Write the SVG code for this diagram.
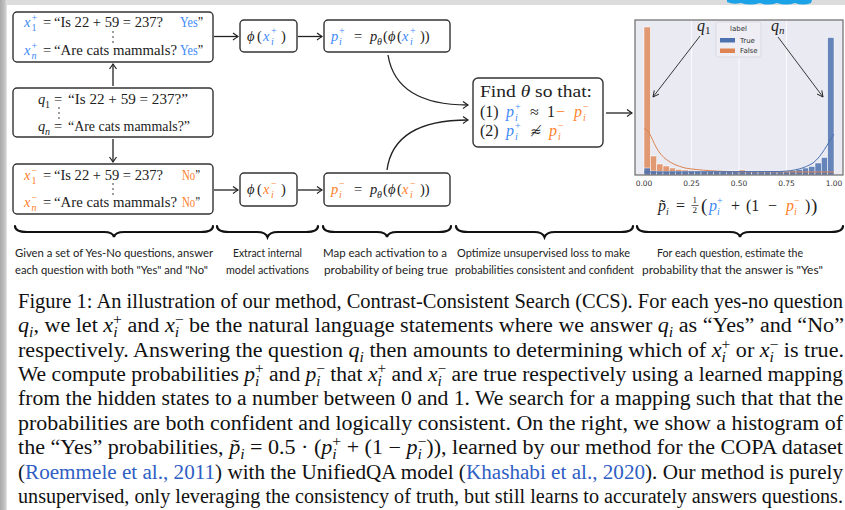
<svg xmlns="http://www.w3.org/2000/svg" width="845" height="510" viewBox="0 0 845 510">
<defs>
<style>
.box{fill:#fff;stroke:#333;stroke-width:1.4}
.m{font-family:"Liberation Serif","Times New Roman",Times,serif;font-size:14.5px;fill:#222}
.i{font-style:italic}
.s{font-size:10px}
.b{fill:#3d8af7}
.o{fill:#ff7f2a}
.cn{stroke:#222;stroke-width:1.3;fill:none}
.brace{stroke:#111;stroke-width:2.2;fill:none;stroke-linecap:round}
.cap{font-family:Lato,"Noto Sans","DejaVu Sans",sans-serif;font-size:11px;fill:#222;text-anchor:middle}
.fig{font-family:"Liberation Serif","Times New Roman",Times,serif;font-size:20.5px;fill:#111}
.fs{font-size:14.5px}
.lk{fill:#2f5ec4}
.tick{font-family:"DejaVu Sans",sans-serif;font-size:7.5px;fill:#333;text-anchor:middle}
.lg{font-family:"DejaVu Sans",sans-serif;font-size:7px;fill:#333}
.ob{fill:#dd8452;fill-opacity:0.8;stroke:#fff;stroke-width:0.5}
.bb{fill:#4c72b0;fill-opacity:0.85;stroke:#fff;stroke-width:0.5}
</style>
<marker id="arr" viewBox="-6 -5 7 10" refX="0" refY="0" markerWidth="7" markerHeight="10" markerUnits="userSpaceOnUse" orient="auto">
<path d="M-5,-3.5 Q-1.5,-1 0,0 Q-1.5,1 -5,3.5" fill="none" stroke="#222" stroke-width="1.2"/>
</marker>
<marker id="harr" viewBox="-7 -4 8 8" refX="0" refY="0" markerWidth="8" markerHeight="8" markerUnits="userSpaceOnUse" orient="auto">
<path d="M-6,-3 L0,0 L-6,3" fill="none" stroke="#222" stroke-width="0.9"/>
</marker>
<linearGradient id="lg" x1="0" x2="1" y1="0" y2="0">
<stop offset="0" stop-color="#a9a9a9"/><stop offset="0.7" stop-color="#c4c4c4"/><stop offset="1" stop-color="#e8e8e8"/>
</linearGradient>
</defs>
<rect x="0" y="0" width="845" height="510" fill="#fff"/>
<rect x="0" y="0" width="845" height="5" fill="#dcdcdc"/>
<rect x="0" y="0" width="7" height="510" fill="url(#lg)"/>
<path d="M727,0 L812,0 L811,3 Q803,6 795,3 Q786,6 777,3 Q768,6 760,3 Q750,6 741,3 Q733,5 727,2 Z" fill="#1ca2e6"/>

<g id="box-xplus">
<rect x="13" y="12" width="200" height="50" rx="4" class="box"/>
<text x="24" y="27" class="m i b">x</text>
<text x="31.5" y="31" class="m b s">1</text>
<text x="31.5" y="21" class="m b s">+</text>
<text x="43" y="27" class="m">=</text>
<text x="54" y="27" class="m" textLength="109" lengthAdjust="spacingAndGlyphs">“Is 22 + 59 = 237?</text>
<text x="180" y="27" class="m" textLength="23" lengthAdjust="spacingAndGlyphs"><tspan class="b">Yes</tspan>”</text>
<circle cx="113" cy="32" r="0.8" fill="#222"/><circle cx="113" cy="37" r="0.8" fill="#222"/><circle cx="113" cy="42" r="0.8" fill="#222"/>
<text x="24" y="55" class="m i b">x</text>
<text x="31.5" y="59" class="m i b s">n</text>
<text x="31.5" y="49" class="m b s">+</text>
<text x="43" y="55" class="m">=</text>
<text x="54" y="55" class="m" textLength="123" lengthAdjust="spacingAndGlyphs">“Are cats mammals?</text>
<text x="180" y="55" class="m" textLength="23" lengthAdjust="spacingAndGlyphs"><tspan class="b">Yes</tspan>”</text>
</g>

<g id="box-q">
<rect x="13" y="88" width="200" height="49" rx="4" class="box"/>
<text x="38" y="104" class="m i">q</text>
<text x="45" y="107.5" class="m s">1</text>
<text x="54" y="104" class="m">=</text>
<text x="68" y="104" class="m" textLength="120" lengthAdjust="spacingAndGlyphs">“Is 22 + 59 = 237?”</text>
<circle cx="59" cy="108" r="0.8" fill="#222"/><circle cx="59" cy="113" r="0.8" fill="#222"/><circle cx="59" cy="118" r="0.8" fill="#222"/>
<text x="38" y="131" class="m i">q</text>
<text x="45" y="134.5" class="m i s">n</text>
<text x="54" y="131" class="m">=</text>
<text x="68" y="131" class="m" textLength="122" lengthAdjust="spacingAndGlyphs">“Are cats mammals?”</text>
</g>

<g id="box-xminus">
<rect x="13" y="164" width="200" height="50" rx="4" class="box"/>
<text x="24" y="180" class="m i o">x</text>
<text x="31.5" y="184" class="m o s">1</text>
<text x="31.5" y="174" class="m o s">−</text>
<text x="43" y="180" class="m">=</text>
<text x="54" y="180" class="m" textLength="109" lengthAdjust="spacingAndGlyphs">“Is 22 + 59 = 237?</text>
<text x="182" y="180" class="m" textLength="18" lengthAdjust="spacingAndGlyphs"><tspan class="o">No</tspan>”</text>
<circle cx="113" cy="184" r="0.8" fill="#222"/><circle cx="113" cy="189" r="0.8" fill="#222"/><circle cx="113" cy="194" r="0.8" fill="#222"/>
<text x="24" y="207" class="m i o">x</text>
<text x="31.5" y="211" class="m i o s">n</text>
<text x="31.5" y="201" class="m o s">−</text>
<text x="43" y="207" class="m">=</text>
<text x="54" y="207" class="m" textLength="123" lengthAdjust="spacingAndGlyphs">“Are cats mammals?</text>
<text x="182" y="207" class="m" textLength="18" lengthAdjust="spacingAndGlyphs"><tspan class="o">No</tspan>”</text>
</g>

<g id="phi-plus">
<rect x="240" y="20" width="57" height="32" rx="4" class="box"/>
<text x="247" y="41" class="m i">ϕ</text>
<text x="257" y="41" class="m">(</text>
<text x="263" y="41" class="m i b">x</text>
<text x="271" y="34" class="m b s">+</text>
<text x="271" y="45" class="m i b s">i</text>
<text x="281" y="41" class="m">)</text>
</g>
<g id="phi-minus">
<rect x="240" y="173" width="57" height="33" rx="4" class="box"/>
<text x="247" y="194" class="m i">ϕ</text>
<text x="257" y="194" class="m">(</text>
<text x="263" y="194" class="m i o">x</text>
<text x="271" y="187" class="m o s">−</text>
<text x="271" y="198" class="m i o s">i</text>
<text x="281" y="194" class="m">)</text>
</g>

<g id="p-plus">
<rect x="324" y="20" width="126" height="32" rx="4" class="box"/>
<text x="331" y="41" class="m i b">p</text>
<text x="339" y="34" class="m b s">+</text>
<text x="339" y="45" class="m i b s">i</text>
<text x="354" y="41" class="m">=</text>
<text x="370" y="41" class="m i">p</text>
<text x="377" y="45" class="m i s">θ</text>
<text x="383" y="41" class="m">(</text>
<text x="388" y="41" class="m i">ϕ</text>
<text x="397" y="41" class="m">(</text>
<text x="402" y="41" class="m i b">x</text>
<text x="410" y="34" class="m b s">+</text>
<text x="410" y="45" class="m i b s">i</text>
<text x="420" y="41" class="m">))</text>
</g>
<g id="p-minus">
<rect x="324" y="173" width="126" height="33" rx="4" class="box"/>
<text x="331" y="194" class="m i o">p</text>
<text x="339" y="187" class="m o s">−</text>
<text x="339" y="198" class="m i o s">i</text>
<text x="354" y="194" class="m">=</text>
<text x="370" y="194" class="m i">p</text>
<text x="377" y="198" class="m i s">θ</text>
<text x="383" y="194" class="m">(</text>
<text x="388" y="194" class="m i">ϕ</text>
<text x="397" y="194" class="m">(</text>
<text x="402" y="194" class="m i o">x</text>
<text x="410" y="187" class="m o s">−</text>
<text x="410" y="198" class="m i o s">i</text>
<text x="420" y="194" class="m">))</text>
</g>

<g id="find">
<rect x="473" y="78" width="130" height="69" rx="5" class="box"/>
<text x="480" y="97" class="m" style="font-size:16px" textLength="112" lengthAdjust="spacingAndGlyphs">Find <tspan class="i">θ</tspan> so that:</text>
<text x="480" y="117" class="m" style="font-size:16px">(1)</text>
<text x="506" y="117" class="m i b" style="font-size:16px">p</text>
<text x="515" y="110" class="m b s">+</text>
<text x="515" y="121" class="m i b s">i</text>
<text x="530" y="117" class="m" style="font-size:16px">≈</text>
<text x="547" y="117" class="m" style="font-size:16px">1</text>
<text x="556" y="117" class="m o" style="font-size:16px">−</text>
<text x="574" y="117" class="m i o" style="font-size:16px">p</text>
<text x="583" y="110" class="m o s">−</text>
<text x="583" y="121" class="m i o s">i</text>
<text x="480" y="136" class="m" style="font-size:16px">(2)</text>
<text x="506" y="136" class="m i b" style="font-size:16px">p</text>
<text x="515" y="129" class="m b s">+</text>
<text x="515" y="140" class="m i b s">i</text>
<text x="530" y="136" class="m" style="font-family:'DejaVu Serif',serif;font-size:14px">≉</text>
<text x="549" y="136" class="m i o" style="font-size:16px">p</text>
<text x="558" y="129" class="m o s">−</text>
<text x="558" y="140" class="m i o s">i</text>
</g>

<g id="histogram">
<rect x="635" y="20" width="208" height="155" fill="#eaeaf2"/>
<g stroke="#fff" stroke-width="0.8">
<line x1="691.5" y1="20" x2="691.5" y2="175"/><line x1="739" y1="20" x2="739" y2="175"/><line x1="786.5" y1="20" x2="786.5" y2="175"/>
</g>
<g class="orange-bars">
<rect class="ob" x="644" y="27" width="6.33" height="148"/>
<rect class="ob" x="650.33" y="156" width="6.33" height="19"/>
<rect class="ob" x="656.67" y="164" width="6.33" height="11"/>
<rect class="ob" x="663" y="166" width="6.33" height="9"/>
<rect class="ob" x="669.33" y="168" width="6.33" height="7"/>
<rect class="ob" x="675.67" y="169.5" width="6.33" height="5.5"/>
<rect class="ob" x="682" y="170" width="6.33" height="5"/>
<rect class="ob" x="688.33" y="170.5" width="6.33" height="4.5"/>
<rect class="ob" x="694.67" y="171" width="6.33" height="4"/>
<rect class="ob" x="701" y="171" width="6.33" height="4"/>
<rect class="ob" x="707.33" y="171" width="6.33" height="4"/>
<rect class="ob" x="713.67" y="171" width="6.33" height="4"/>
<rect class="ob" x="720" y="171" width="6.33" height="4"/>
<rect class="ob" x="726.33" y="171" width="6.33" height="4"/>
<rect class="ob" x="732.67" y="171" width="6.33" height="4"/>
<rect class="ob" x="739" y="170" width="6.33" height="5"/>
<rect class="ob" x="745.33" y="172" width="6.33" height="3"/>
<rect class="ob" x="751.67" y="172" width="6.33" height="3"/>
<rect class="ob" x="758" y="172" width="6.33" height="3"/>
<rect class="ob" x="764.33" y="172" width="6.33" height="3"/>
<rect class="ob" x="770.67" y="172" width="6.33" height="3"/>
<rect class="ob" x="777" y="172" width="6.33" height="3"/>
<rect class="ob" x="783.33" y="172" width="6.33" height="3"/>
<rect class="ob" x="789.67" y="172" width="6.33" height="3"/>
<rect class="ob" x="796" y="172" width="6.33" height="3"/>
<rect class="ob" x="802.33" y="172" width="6.33" height="3"/>
<rect class="ob" x="808.67" y="172" width="6.33" height="3"/>
<rect class="ob" x="815" y="172" width="6.33" height="3"/>
<rect class="ob" x="821.33" y="172" width="6.33" height="3"/>
<rect class="ob" x="827.67" y="172" width="6.33" height="3"/>
</g>
<g class="blue-bars">
<rect class="bb" x="644" y="168" width="6.33" height="7"/>
<rect class="bb" x="650.33" y="171" width="6.33" height="4"/>
<rect class="bb" x="656.67" y="171.5" width="6.33" height="3.5"/>
<rect class="bb" x="663" y="171.5" width="6.33" height="3.5"/>
<rect class="bb" x="669.33" y="171.5" width="6.33" height="3.5"/>
<rect class="bb" x="675.67" y="171.5" width="6.33" height="3.5"/>
<rect class="bb" x="682" y="171.5" width="6.33" height="3.5"/>
<rect class="bb" x="688.33" y="171.5" width="6.33" height="3.5"/>
<rect class="bb" x="694.67" y="171.5" width="6.33" height="3.5"/>
<rect class="bb" x="701" y="171.5" width="6.33" height="3.5"/>
<rect class="bb" x="707.33" y="171.5" width="6.33" height="3.5"/>
<rect class="bb" x="713.67" y="171.5" width="6.33" height="3.5"/>
<rect class="bb" x="720" y="171.5" width="6.33" height="3.5"/>
<rect class="bb" x="726.33" y="171.5" width="6.33" height="3.5"/>
<rect class="bb" x="732.67" y="171.5" width="6.33" height="3.5"/>
<rect class="bb" x="739" y="171.5" width="6.33" height="3.5"/>
<rect class="bb" x="745.33" y="171.5" width="6.33" height="3.5"/>
<rect class="bb" x="751.67" y="171.5" width="6.33" height="3.5"/>
<rect class="bb" x="758" y="171.5" width="6.33" height="3.5"/>
<rect class="bb" x="764.33" y="171.5" width="6.33" height="3.5"/>
<rect class="bb" x="770.67" y="171.5" width="6.33" height="3.5"/>
<rect class="bb" x="777" y="171.5" width="6.33" height="3.5"/>
<rect class="bb" x="783.33" y="171.5" width="6.33" height="3.5"/>
<rect class="bb" x="789.67" y="170.5" width="6.33" height="4.5"/>
<rect class="bb" x="796" y="169.5" width="6.33" height="5.5"/>
<rect class="bb" x="802.33" y="168" width="6.33" height="7"/>
<rect class="bb" x="808.67" y="166.5" width="6.33" height="8.5"/>
<rect class="bb" x="815" y="163" width="6.33" height="12"/>
<rect class="bb" x="821.33" y="157.5" width="6.33" height="17.5"/>
<rect class="bb" x="827.67" y="37.5" width="6.33" height="137.5"/>
</g>
<path d="M644,129 C648,128 651,137 656,147 C662,158 670,164 685,168 C700,170.5 720,171.5 740,171.8 L834,172" fill="none" stroke="#dd8452" stroke-width="1"/>
<path d="M644,172 L780,171.5 C795,171 805,168 813,163 C822,156 828,143 834,134" fill="none" stroke="#4c72b0" stroke-width="1"/>
<rect x="635" y="20" width="208" height="155" fill="none" stroke="#6b6b6b" stroke-width="1.2"/>
<text class="tick" x="644" y="186">0.00</text>
<text class="tick" x="691.5" y="186">0.25</text>
<text class="tick" x="739" y="186">0.50</text>
<text class="tick" x="786.5" y="186">0.75</text>
<text class="tick" x="834" y="186">1.00</text>
<rect x="716" y="22" width="45" height="35" rx="2" fill="#eeeef4" stroke="#d2d2d8" stroke-width="0.7"/>
<text class="lg" x="738.5" y="31" text-anchor="middle">label</text>
<rect x="720" y="38" width="15" height="4.5" fill="#4c72b0"/>
<text class="lg" x="740" y="43">True</text>
<rect x="720" y="48.5" width="15" height="4.5" fill="#dd8452"/>
<text class="lg" x="740" y="53">False</text>
<text x="697" y="31" class="m i" style="font-size:16px">q</text>
<text x="705" y="34" class="m" style="font-size:11px">1</text>
<text x="771" y="31" class="m i" style="font-size:16px">q</text>
<text x="779" y="34" class="m i" style="font-size:11px">n</text>
<line x1="700" y1="36" x2="653" y2="97" stroke="#222" stroke-width="0.9" marker-end="url(#harr)"/>
<line x1="778" y1="37" x2="823" y2="97" stroke="#222" stroke-width="0.9" marker-end="url(#harr)"/>
<text x="658" y="211" class="m i" style="font-size:16px">p̃</text>
<text x="666" y="214.5" class="m i s">i</text>
<text x="676" y="211" class="m" style="font-size:16px">=</text>
<text x="692.5" y="203" class="m" style="font-size:9px">1</text>
<line x1="691.5" y1="205.5" x2="698.5" y2="205.5" stroke="#222" stroke-width="0.7"/>
<text x="692.5" y="213" class="m" style="font-size:9px">2</text>
<text x="701" y="212" class="m" style="font-size:19px">(</text>
<text x="709" y="211" class="m i b" style="font-size:16px">p</text>
<text x="717" y="204" class="m b s">+</text>
<text x="717" y="215" class="m i b s">i</text>
<text x="731" y="211" class="m" style="font-size:16px">+</text>
<text x="746" y="211" class="m" style="font-size:16px">(1</text>
<text x="768" y="211" class="m" style="font-size:16px">−</text>
<text x="786" y="211" class="m i o" style="font-size:16px">p</text>
<text x="794" y="204" class="m o s">−</text>
<text x="794" y="215" class="m i o s">i</text>
<text x="805" y="211" class="m" style="font-size:16px">)</text>
<text x="811" y="212" class="m" style="font-size:19px">)</text>
</g>

<g id="connectors">
<line x1="113" y1="86" x2="113" y2="64" class="cn" marker-end="url(#arr)"/>
<line x1="113" y1="139" x2="113" y2="162" class="cn" marker-end="url(#arr)"/>
<line x1="214" y1="36.5" x2="238" y2="36.5" class="cn" marker-end="url(#arr)"/>
<line x1="214" y1="190" x2="238" y2="190" class="cn" marker-end="url(#arr)"/>
<line x1="298" y1="36.5" x2="322" y2="36.5" class="cn" marker-end="url(#arr)"/>
<line x1="298" y1="190" x2="322" y2="190" class="cn" marker-end="url(#arr)"/>
<path d="M388,55 C394,92 425,105 468,105" class="cn" marker-end="url(#arr)"/>
<path d="M387,170 C392,133 425,120 468,120" class="cn" marker-end="url(#arr)"/>
<line x1="606" y1="113" x2="632" y2="113" class="cn" marker-end="url(#arr)"/>
</g>

<g id="braces">
<path class="brace" d="M15,226 C15,230 18,232 27,232 L104,232 C110,232 113,233 114,237 C115,233 118,232 124,232 L201,232 C210,232 213,230 213,226"/>
<path class="brace" d="M217,226 C217,230 220,232 229,232 L257,232 C263,232 266,233 267.5,237 C269,233 272,232 278,232 L306,232 C315,232 318,230 318,226"/>
<path class="brace" d="M323,226 C323,230 326,232 335,232 L377,232 C383,232 386,233 387,237 C388,233 391,232 397,232 L439,232 C448,232 451,230 451,226"/>
<path class="brace" d="M456,226 C456,230 459,232 468,232 L534,232 C540,232 543,233 544.5,237 C546,233 549,232 555,232 L621,232 C630,232 633,230 633,226"/>
<path class="brace" d="M637,226 C637,230 640,232 649,232 L730,232 C736,232 739,233 740,237 C741,233 744,232 750,232 L831,232 C840,232 843,230 843,226"/>
</g>

<g id="step-labels">
<text class="cap" x="114" y="257" textLength="198" lengthAdjust="spacingAndGlyphs">Given a set of Yes-No questions, answer</text>
<text class="cap" x="111.5" y="274" textLength="193" lengthAdjust="spacingAndGlyphs">each question with both "Yes" and "No"</text>
<text class="cap" x="267.5" y="257" textLength="69" lengthAdjust="spacingAndGlyphs">Extract internal</text>
<text class="cap" x="267.5" y="274" textLength="83" lengthAdjust="spacingAndGlyphs">model activations</text>
<text class="cap" x="385" y="257" textLength="124" lengthAdjust="spacingAndGlyphs">Map each activation to a</text>
<text class="cap" x="386" y="274" textLength="124" lengthAdjust="spacingAndGlyphs">probability of being true</text>
<text class="cap" x="543.5" y="257" textLength="173" lengthAdjust="spacingAndGlyphs">Optimize unsupervised loss to make</text>
<text class="cap" x="544.5" y="274" textLength="179" lengthAdjust="spacingAndGlyphs">probabilities consistent and confident</text>
<text class="cap" x="730" y="257" textLength="146" lengthAdjust="spacingAndGlyphs">For each question, estimate the</text>
<text class="cap" x="732.5" y="274" textLength="181" lengthAdjust="spacingAndGlyphs">probability that the answer is "Yes"</text>
</g>

<g id="figure-caption" class="fig">
<text x="18" y="308" textLength="825" lengthAdjust="spacingAndGlyphs">Figure 1: An illustration of our method, Contrast-Consistent Search (CCS). For each yes-no question</text>
<text x="18" y="332" textLength="826" lengthAdjust="spacingAndGlyphs"><tspan class="i">q</tspan><tspan class="fs i" baseline-shift="-4.5">i</tspan>, we let <tspan class="i">x</tspan><tspan class="fs i" baseline-shift="-4.5">i</tspan><tspan class="fs" dx="-4.1" baseline-shift="8.5">+</tspan> and <tspan class="i">x</tspan><tspan class="fs i" baseline-shift="-4.5">i</tspan><tspan class="fs" dx="-4.1" baseline-shift="8.5">−</tspan> be the natural language statements where we answer <tspan class="i">q</tspan><tspan class="fs i" baseline-shift="-4.5">i</tspan> as “Yes” and “No”</text>
<text x="18" y="357" textLength="826" lengthAdjust="spacingAndGlyphs">respectively.  Answering the question <tspan class="i">q</tspan><tspan class="fs i" baseline-shift="-4.5">i</tspan> then amounts to determining which of <tspan class="i">x</tspan><tspan class="fs i" baseline-shift="-4.5">i</tspan><tspan class="fs" dx="-4.1" baseline-shift="8.5">+</tspan> or <tspan class="i">x</tspan><tspan class="fs i" baseline-shift="-4.5">i</tspan><tspan class="fs" dx="-4.1" baseline-shift="8.5">−</tspan> is true.</text>
<text x="18" y="381" textLength="825" lengthAdjust="spacingAndGlyphs">We compute probabilities <tspan class="i">p</tspan><tspan class="fs i" baseline-shift="-4.5">i</tspan><tspan class="fs" dx="-4.1" baseline-shift="8.5">+</tspan> and <tspan class="i">p</tspan><tspan class="fs i" baseline-shift="-4.5">i</tspan><tspan class="fs" dx="-4.1" baseline-shift="8.5">−</tspan> that <tspan class="i">x</tspan><tspan class="fs i" baseline-shift="-4.5">i</tspan><tspan class="fs" dx="-4.1" baseline-shift="8.5">+</tspan> and <tspan class="i">x</tspan><tspan class="fs i" baseline-shift="-4.5">i</tspan><tspan class="fs" dx="-4.1" baseline-shift="8.5">−</tspan> are true respectively using a learned mapping</text>
<text x="18" y="405" textLength="825" lengthAdjust="spacingAndGlyphs">from the hidden states to a number between 0 and 1.  We search for a mapping such that that the</text>
<text x="18" y="430" textLength="825" lengthAdjust="spacingAndGlyphs">probabilities are both confident and logically consistent.  On the right, we show a histogram of</text>
<text x="18" y="454" textLength="825" lengthAdjust="spacingAndGlyphs">the “Yes” probabilities, <tspan class="i">p̃</tspan><tspan class="fs i" baseline-shift="-4.5">i</tspan> = 0.5 · (<tspan class="i">p</tspan><tspan class="fs i" baseline-shift="-4.5">i</tspan><tspan class="fs" dx="-4.1" baseline-shift="8.5">+</tspan> + (1 − <tspan class="i">p</tspan><tspan class="fs i" baseline-shift="-4.5">i</tspan><tspan class="fs" dx="-4.1" baseline-shift="8.5">−</tspan>)), learned by our method for the COPA dataset</text>
<text x="18" y="479" textLength="825" lengthAdjust="spacingAndGlyphs">(<tspan class="lk">Roemmele et al., 2011</tspan>) with the UnifiedQA model (<tspan class="lk">Khashabi et al., 2020</tspan>). Our method is purely</text>
<text x="18" y="503" textLength="825" lengthAdjust="spacingAndGlyphs">unsupervised, only leveraging the consistency of truth, but still learns to accurately answers questions.</text>
</g>
</svg>
